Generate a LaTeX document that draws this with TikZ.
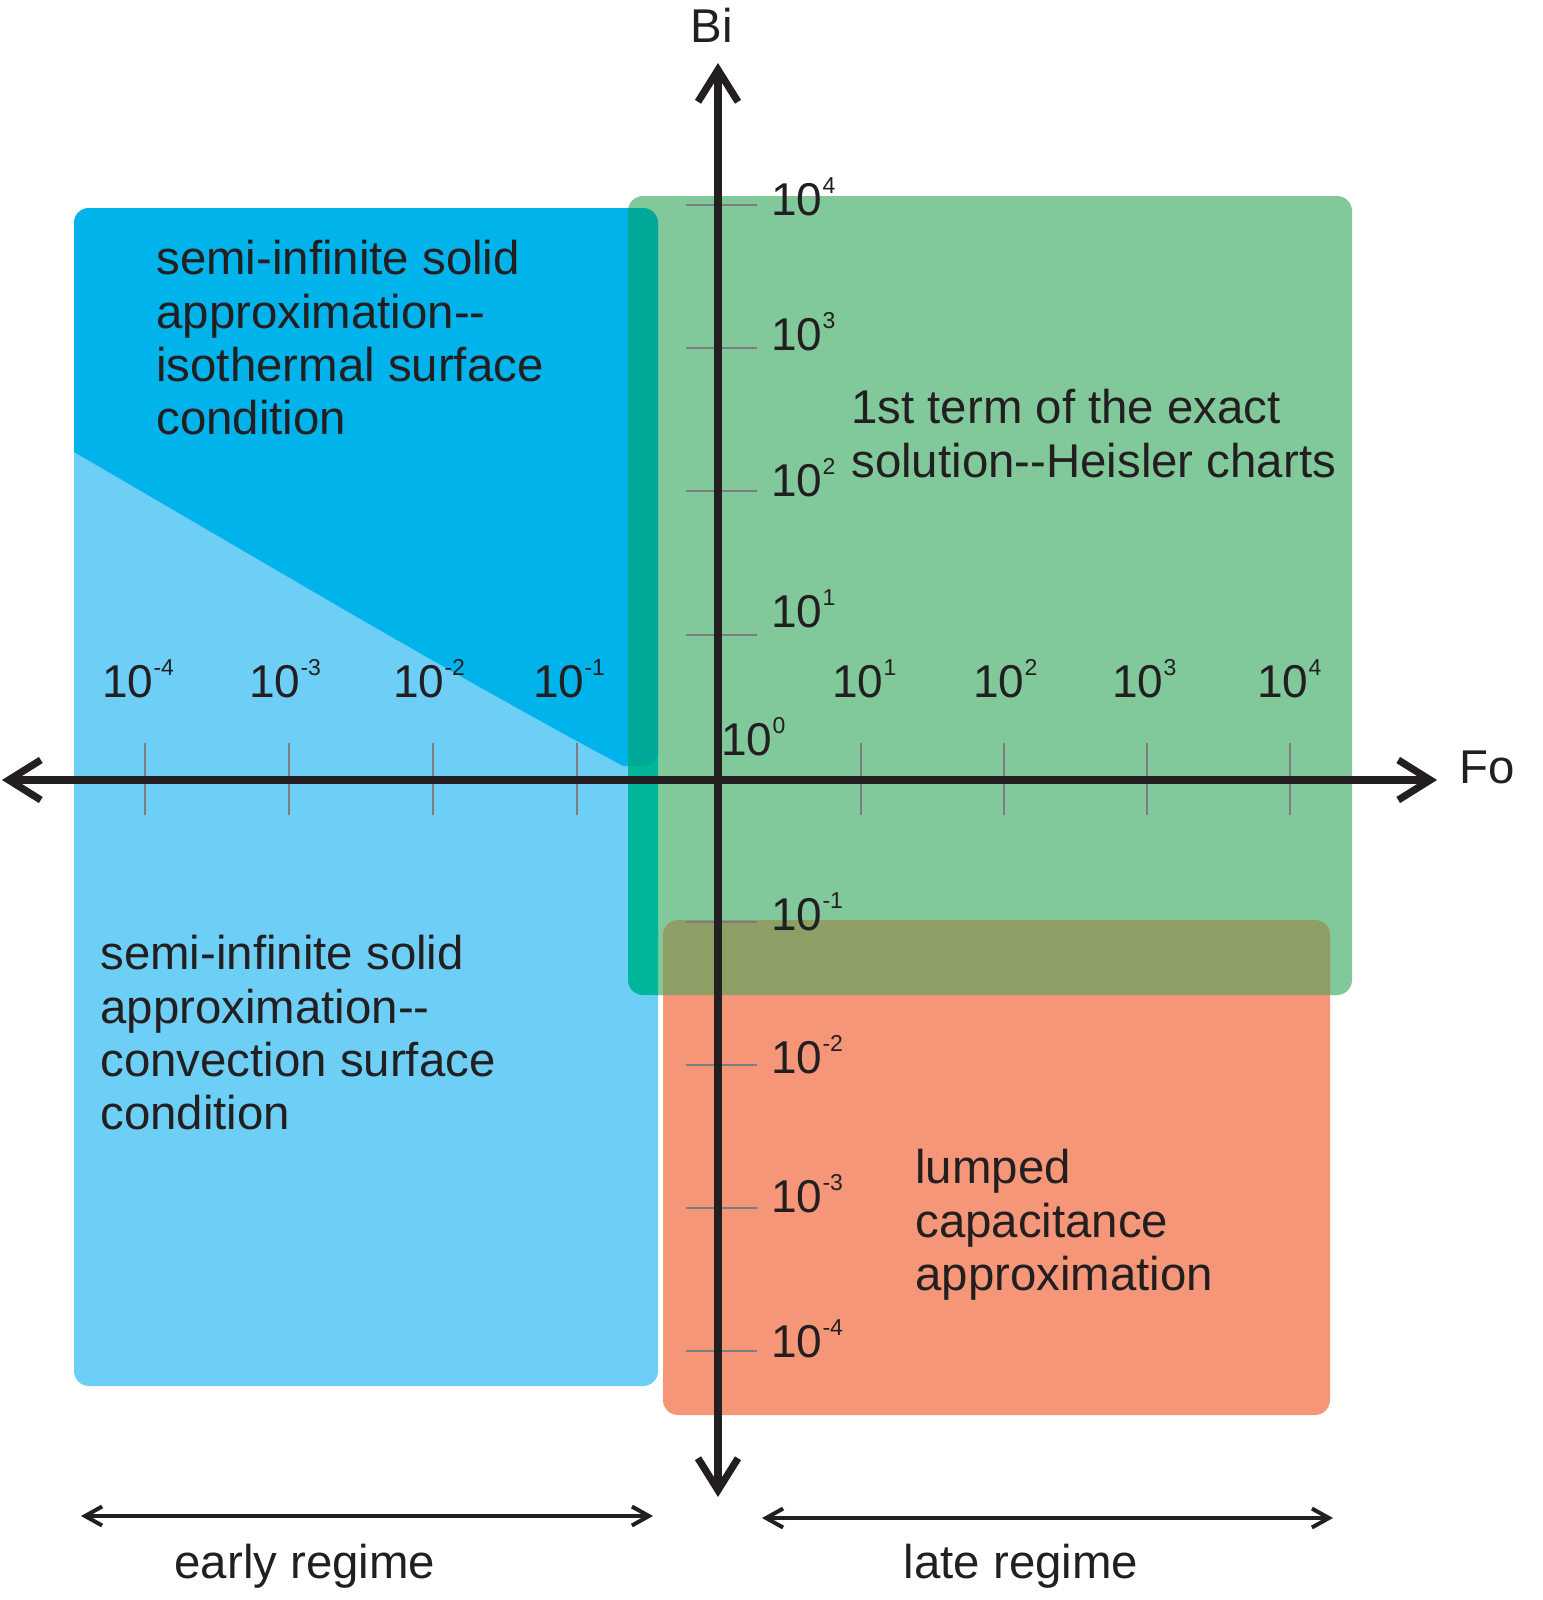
\documentclass[tikz,border=0pt]{standalone}
\usepackage{fontspec}
\setmainfont{Liberation Sans}
\usetikzlibrary{arrows.meta}
\definecolor{ink}{HTML}{231F20}
\definecolor{tickgray}{HTML}{7C7D80}
\definecolor{cLightBlue}{HTML}{6DCFF6}
\definecolor{cDarkBlue}{HTML}{00B4EB}
\definecolor{cGreen}{HTML}{81C99B}
\definecolor{cTealLight}{HTML}{00B79A}
\definecolor{cTealDark}{HTML}{00A997}
\definecolor{cOrange}{HTML}{F69679}
\definecolor{cOlive}{HTML}{8E9F66}
\newcommand{\tenpow}[1]{10\raisebox{11pt}{\fontsize{11.5}{12}\selectfont #1}}
\newcommand{\dblhy}{-\kern0pt-}
\tikzset{
  axisline/.style={line width=3.6pt, draw=ink,
    {Straight Barb[length=16pt,width=20pt]}-{Straight Barb[length=16pt,width=20pt]}},
  regime/.style={line width=2pt, draw=ink,
    {Straight Barb[length=8.5pt,width=9.5pt]}-{Straight Barb[length=8.5pt,width=9.5pt]}},
  tickline/.style={line width=0.7pt, draw=tickgray},
  lab/.style={font=\fontsize{23}{25}\selectfont, inner sep=0pt, text=ink, anchor=base west},
  body/.style={font=\fontsize{23.7}{26.65}\selectfont, align=left, inner sep=0pt, text=ink, anchor=north west},
  axlab/.style={font=\fontsize{23.7}{26.65}\selectfont, inner sep=0pt, text=ink, anchor=base},
  rc/.style={rounded corners=7.5pt}
}
\begin{document}
\begin{tikzpicture}[x=0.5pt,y=-0.5pt]
\useasboundingbox (0,0) rectangle (1542,1600);
% regions
\fill[cLightBlue, rc] (74,208) rectangle (658,1386);
\begin{scope}
  \clip[rc] (74,208) rectangle (658,766);
  \fill[cDarkBlue] (60,200) -- (60,444) -- (74,452) .. controls (260,560) and (440,668) .. (625,767) -- (680,800) -- (680,200) -- cycle;
\end{scope}
\fill[cGreen, rc] (628,196) rectangle (1352,995);
\fill[cOrange, rc] (663,920) rectangle (1330,1415);
\begin{scope}
  \clip[rc] (628,196) rectangle (1352,995);
  \fill[cTealLight, rc] (74,208) rectangle (658,1386);
  \clip[rc] (74,208) rectangle (658,766);
  \fill[cTealDark] (60,200) -- (60,444) -- (74,452) .. controls (260,560) and (440,668) .. (625,767) -- (680,800) -- (680,200) -- cycle;
\end{scope}
\begin{scope}
  \clip[rc] (628,196) rectangle (1352,995);
  \fill[cOlive, rc] (663,920) rectangle (1330,1415);
\end{scope}
% ticks
\foreach \x in {145,289,433,577,861,1004,1147,1290}
  \draw[tickline] (\x,743) -- (\x,815);
\foreach \y in {205,348,491,635,922,1065,1208,1351}
  \draw[tickline] (686,\y) -- (757,\y);
% axes
\coordinate (xl) at (2,780);
\coordinate (xr) at (1437,780);
\coordinate (yt) at (718,63);
\coordinate (yb) at (718,1497);
\draw[axisline] (xl) -- (xr);
\draw[axisline] (yb) -- (yt);
\node[axlab] (bi) at (712,43) {Bi};
\node[axlab] (fo) at (1487,783) {Fo};
% Bi labels
\node[lab] (b4) at (771,215) {\tenpow{4}};
\node[lab] (b3) at (771,350) {\tenpow{3}};
\node[lab] (b2) at (771,496) {\tenpow{2}};
\node[lab] (b1) at (771,627) {\tenpow{1}};
\node[lab] (b0) at (721,755) {\tenpow{0}};
\node[lab] (bm1) at (771,930) {\tenpow{-1}};
\node[lab] (bm2) at (771,1073) {\tenpow{-2}};
\node[lab] (bm3) at (771,1212) {\tenpow{-3}};
\node[lab] (bm4) at (771,1357) {\tenpow{-4}};
% Fo labels
\node[lab] (fm4) at (102,697) {\tenpow{-4}};
\node[lab] (fm3) at (249,697) {\tenpow{-3}};
\node[lab] (fm2) at (393,697) {\tenpow{-2}};
\node[lab] (fm1) at (533,697) {\tenpow{-1}};
\node[lab] (f1) at (832,697) {\tenpow{1}};
\node[lab] (f2) at (973,697) {\tenpow{2}};
\node[lab] (f3) at (1112,697) {\tenpow{3}};
\node[lab] (f4) at (1257,697) {\tenpow{4}};
% region texts
\node[body] (iso) at (156,240) {semi-infinite solid\\approximation\dblhy\\isothermal surface\\condition};
\node[body] (conv) at (100,935) {semi-infinite solid\\approximation\dblhy\\convection surface\\condition};
\node[body] (heis) at (851,389) {1st term of the exact\\solution\dblhy Heisler charts};
\node[body] (lump) at (915,1149) {lumped\\capacitance\\approximation};
% regimes
\coordinate (e1) at (81,1516);
\coordinate (e2) at (653,1516);
\coordinate (l1) at (762,1518);
\coordinate (l2) at (1333,1518);
\draw[regime] (e1) -- (e2);
\draw[regime] (l1) -- (l2);
\node[axlab] (early) at (305,1578) {early regime};
\node[axlab] (late) at (1021,1578) {late regime};
\end{tikzpicture}
\end{document}
